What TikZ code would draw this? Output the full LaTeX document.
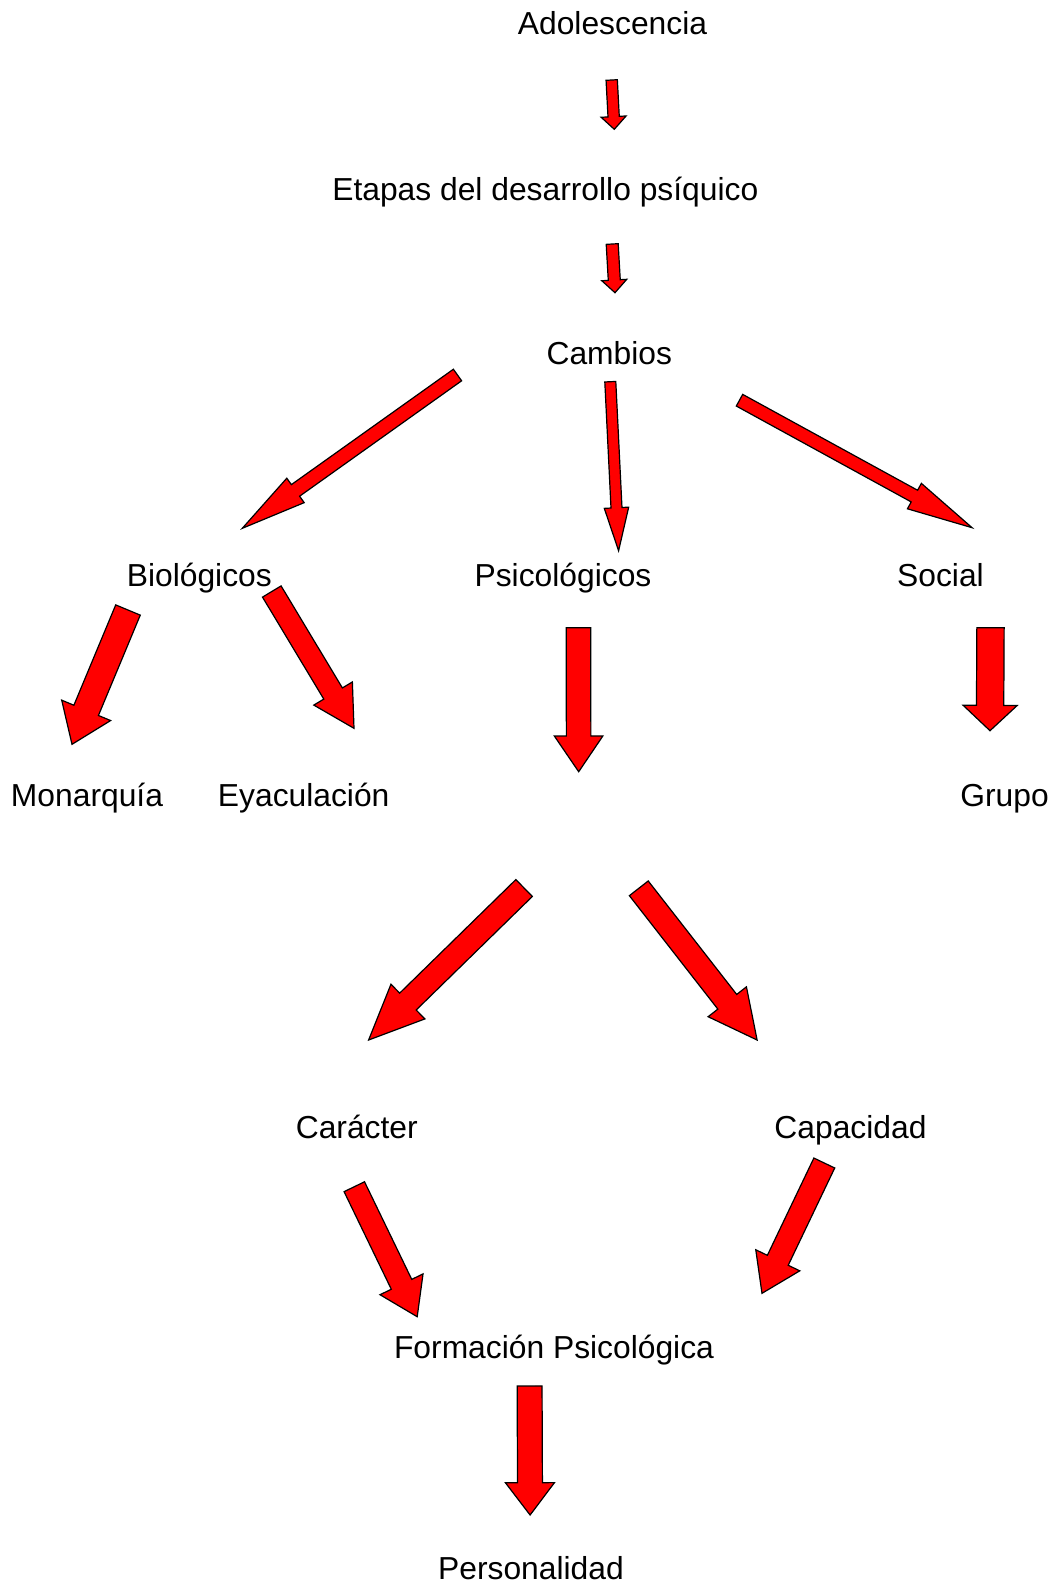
\documentclass[tikz,border=0pt]{standalone}
\usepackage{fontspec}
\setmainfont{Liberation Sans}
\usepackage{tikz}
\usetikzlibrary{calc}
\definecolor{arrowred}{rgb}{1, 0, 0}
\tikzset{
  lbl/.style={anchor=base,inner sep=0pt,font=\fontsize{15.9}{19}\selectfont},
  blockarrow/.style={draw=black,fill=arrowred,line width=.6pt,line join=miter},
}
% tail, tip, shaft width, head width, head length (in px)
\newcommand{\redarrow}[5]{%
  \pgfmathsetmacro{\arrsw}{0.25*#3}%
  \pgfmathsetmacro{\arrhw}{0.25*#4}%
  \pgfmathsetmacro{\arrhl}{0.5*#5}%
  \coordinate (hb) at ($(#2)!\arrhl pt!(#1)$);
  \draw[blockarrow] ($(#1)!\arrsw pt!90:(#2)$) -- ($(hb)!\arrsw pt!90:(#2)$)
     -- ($(hb)!\arrhw pt!90:(#2)$) -- (#2) -- ($(hb)!\arrhw pt!-90:(#2)$)
     -- ($(hb)!\arrsw pt!-90:(#2)$) -- ($(#1)!\arrsw pt!-90:(#2)$) -- cycle;
}

\begin{document}
\begin{tikzpicture}[x=.5pt,y=-.5pt]
\useasboundingbox (0,0) rectangle (1055,1587);

% Labels
  \node[lbl] (adol) at (612.5, 34.3) {Adolescencia};
  \node[lbl] (etapas) at (545.3, 200) {Etapas del desarrollo psíquico};
  \node[lbl] (cambios) at (609.3, 364.3) {Cambios};
  \node[lbl] (bio) at (199.3, 586.7) {Biológicos};
  \node[lbl] (psico) at (563, 586.7) {Psicológicos};
  \node[lbl] (social) at (940.5, 586.7) {Social};
  \node[lbl] (mona) at (87, 806.7) {Monarquía};
  \node[lbl] (eyac) at (303.7, 806.7) {Eyaculación};
  \node[lbl] (grupo) at (1004.5, 806.7) {Grupo};
  \node[lbl] (caracter) at (356.8, 1138.3) {Carácter};
  \node[lbl] (capac) at (850.5, 1138.3) {Capacidad};
  \node[lbl] (formacion) at (554, 1358.3) {Formación Psicológica};
  \node[lbl] (person) at (531, 1579) {Personalidad};

%%%%%%%%%%%%%%
% Top chain
%%%%%%%%%%%%%%
  % points
  \coordinate (adolT) at (611.7, 80);
  \coordinate (adolH) at (614.3, 129.3);
  \coordinate (etapasT) at (612.2, 244);
  \coordinate (etapasH) at (615, 292.7);

  % legs
  \redarrow{adolT}{adolH}{11.3}{25}{12.7}
  \redarrow{etapasT}{etapasH}{12}{25}{12.7}

%%%%%%%%%%%%%%
% Cambios
%%%%%%%%%%%%%%
  % points
  \coordinate (bioT) at (457.5, 375);
  \coordinate (bioH) at (242.3, 528.3);
  \coordinate (psicoT) at (610.3, 381.7);
  \coordinate (psicoH) at (618.6, 550.7);
  \coordinate (socialT) at (739.5, 400.2);
  \coordinate (socialH) at (972.1, 527.7);

  % legs
  \redarrow{bioT}{bioH}{14.2}{30}{65.3}
  \redarrow{psicoT}{psicoH}{11}{24.4}{43}
  \redarrow{socialT}{socialH}{13.3}{29}{65.8}

%%%%%%%%%%%%%%
% Second row
%%%%%%%%%%%%%%
  % points
  \coordinate (monaT) at (128, 610);
  \coordinate (monaH) at (72, 744.3);
  \coordinate (eyacT) at (271.8, 591.5);
  \coordinate (eyacH) at (354, 728.3);
  \coordinate (downT) at (578.4, 627.7);
  \coordinate (downH) at (578.7, 771.7);
  \coordinate (grupoT) at (990.5, 627.7);
  \coordinate (grupoH) at (990, 730.7);

  % legs
  \redarrow{monaT}{monaH}{26.6}{53}{36.8}
  \redarrow{eyacT}{eyacH}{21.7}{45}{40.6}
  \redarrow{downT}{downH}{24.5}{48.5}{35.7}
  \redarrow{grupoT}{grupoH}{27.3}{54}{25.3}

%%%%%%%%%%%%%%
% Carácter / Capacidad
%%%%%%%%%%%%%%
  % points
  \coordinate (caracterT) at (524.1, 888);
  \coordinate (caracterH) at (368.6, 1040);
  \coordinate (capacT) at (638.8, 888.3);
  \coordinate (capacH) at (757.1, 1040);

  % legs
  \redarrow{caracterT}{caracterH}{23.6}{48.5}{55}
  \redarrow{capacT}{capacH}{23.9}{48.6}{48.5}

%%%%%%%%%%%%%%
% Formación
%%%%%%%%%%%%%%
  % points
  \coordinate (formLT) at (354.3, 1186.7);
  \coordinate (formLH) at (417.2, 1316.7);
  \coordinate (formRT) at (824.3, 1163);
  \coordinate (formRH) at (762, 1293.3);
  \coordinate (personT) at (529.6, 1386);
  \coordinate (personH) at (530.1, 1515);

  % legs
  \redarrow{formLT}{formLH}{22.7}{47.8}{36}
  \redarrow{formRT}{formRH}{23.1}{48.8}{36.6}
  \redarrow{personT}{personH}{24.9}{49}{32.3}

\end{tikzpicture}
\end{document}
